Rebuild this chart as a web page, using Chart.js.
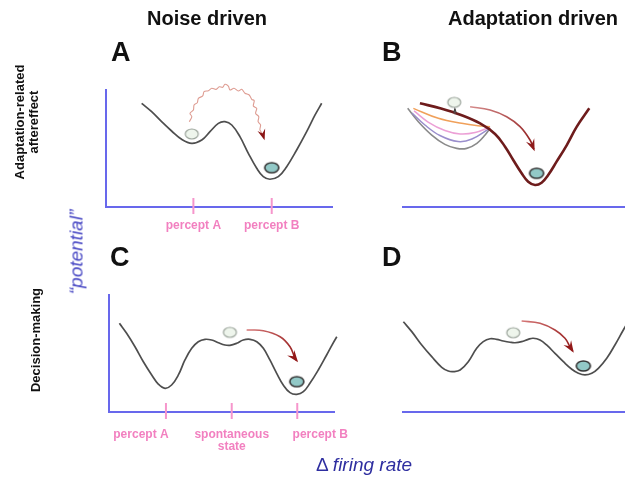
<!DOCTYPE html>
<html>
<head>
<meta charset="utf-8">
<script src="https://cdn.jsdelivr.net/npm/chart.js@4.4.1/dist/chart.umd.min.js"></script>
<style>
  html, body { margin: 0; padding: 0; background: #fff; width: 625px; height: 478px; overflow: hidden; position: relative; }
  canvas.layer { position: absolute; left: 0; top: 0; }
  .t { position: absolute; font-family: "Liberation Sans", Arial, Helvetica, sans-serif; white-space: nowrap; }
  .title { font-size: 20px; font-weight: bold; line-height: 20px; color: #111; }
  .letter { font-size: 27px; font-weight: bold; line-height: 27px; color: #111; }
  .row { font-size: 13px; font-weight: bold; line-height: 14px; color: #111; text-align: center;
         transform: translate(-50%, -50%) rotate(-90deg); }
  .pot { font-size: 19px; font-style: italic; line-height: 19px; color: #4848c4;
         transform: translate(-50%, -50%) rotate(-90deg); }
  .xlab { font-size: 19px; line-height: 19px; color: #2e2ea0; transform: translateX(-50%); }
  .xlab i { font-style: italic; }
</style>
</head>
<body>
<canvas id="cA" class="layer" width="640" height="478"></canvas>
<canvas id="cB" class="layer" width="640" height="478"></canvas>
<canvas id="cC" class="layer" width="640" height="478"></canvas>
<canvas id="cD" class="layer" width="640" height="478"></canvas>

<div class="t title" style="left:147px; top:8px;">Noise driven</div>
<div class="t title" style="left:448px; top:8px;">Adaptation driven</div>
<div class="t letter" style="left:111px; top:39px;">A</div>
<div class="t letter" style="left:382px; top:39px;">B</div>
<div class="t letter" style="left:110px; top:244px;">C</div>
<div class="t letter" style="left:382px; top:244px;">D</div>
<div class="t row" style="left:26.5px; top:122px;">Adaptation-related<br>aftereffect</div>
<div class="t row" style="left:35.5px; top:340px;">Decision-making</div>
<div class="t pot" style="left:76px; top:252px;">“potential”</div>
<div class="t xlab" style="left:364px; top:455px;">Δ <i>firing rate</i></div>

<script>
// ---------------- values (x: firing-rate units 0-100, y: potential units 0-100) ----------------

// Panel A: asymmetric double well, noise kicks the state from percept A to percept B
const aWellX = [15.7, 20.1, 24.5, 28.9, 33.3, 37.8, 42.2, 45.8, 49.5, 52.4, 55.4, 59.0, 62.7, 66.4, 69.3, 72.2, 75.9, 79.6, 84.0, 88.4, 92.1, 95.0];
const aWellY = [87.9, 80.8, 72.3, 64.4, 57.4, 54.0, 56.8, 63.8, 70.9, 72.3, 69.5, 59.6, 45.5, 32.8, 25.7, 23.5, 25.7, 34.2, 48.3, 63.8, 78.0, 87.9];
const aNoiseX = [36.7, 37.8, 37.0, 38.5, 38.8, 40.2, 40.7, 42.6, 43.2, 45.1, 46.6, 48.5, 49.9, 51.4, 52.4, 53.9, 54.6, 56.4, 58.3, 59.8, 61.2, 63.1, 64.2, 65.3, 64.9, 66.4, 65.9, 67.3, 67.0, 68.1, 67.8, 69.0, 69.6];
const aNoiseY = [72.3, 76.5, 79.4, 82.2, 86.4, 88.4, 92.1, 94.1, 97.7, 98.6, 100.6, 99.7, 101.9, 101.4, 104.0, 102.5, 99.2, 100.6, 98.3, 99.7, 96.4, 94.9, 91.3, 90.1, 85.6, 83.6, 79.4, 76.5, 72.3, 69.5, 65.3, 61.9, 58.2];
const aOldState = [37.8, 61.9];
const aNewState = [73.0, 33.3];
const aTickValues = [38.5, 73.0];
const aTickLabels = ['percept A', 'percept B'];

// Panel B: the adapted well flattens out until the state slides into the other well
const bMainX = [7.9, 17.2, 26.0, 34.4, 41.0, 45.4, 49.0, 52.7, 55.6, 58.6, 61.5, 64.4, 68.1, 72.6, 77.0, 82.5];
const bMainY = [87.9, 83.5, 78.0, 70.8, 61.9, 51.1, 39.8, 28.6, 21.4, 18.6, 20.6, 27.1, 38.4, 52.5, 68.1, 83.6];
const bStage1X = [2.5, 7.2, 13.1, 18.9, 24.1, 28.5, 33.0, 36.6, 38.8];
const bStage1Y = [83.6, 72.3, 61.0, 53.1, 49.7, 49.7, 54.0, 61.0, 66.7];
const bStage2X = [4.4, 10.1, 16.7, 24.7, 30.8, 38.8];
const bStage2Y = [79.7, 69.5, 60.6, 55.5, 57.6, 66.9];
const bStage3X = [5.3, 11.5, 18.9, 25.6, 32.2, 38.8];
const bStage3Y = [81.4, 72.0, 64.8, 61.9, 63.1, 67.8];
const bStage4X = [5.0, 16.0, 26.3, 35.1, 38.8];
const bStage4Y = [83.6, 75.2, 70.9, 68.6, 68.1];
const bLiftX = [23.3, 23.3];
const bLiftY = [78.6, 83.1];
const bSlideX = [30.0, 38.8, 46.1, 52.0, 56.4, 58.1];
const bSlideY = [85.0, 82.2, 76.5, 68.1, 56.8, 48.9];
const bOldState = [23.0, 88.7];
const bNewState = [59.3, 28.6];

// Panel C: tri-stable landscape with a shallow spontaneous state in the middle
const cWellX = [4.6, 7.8, 11.5, 15.2, 18.9, 21.8, 24.8, 27.7, 30.7, 33.6, 36.6, 39.5, 42.5, 45.4, 48.4, 51.3, 53.5, 56.5, 59.4, 62.4, 65.4, 68.3, 71.2, 74.2, 77.1, 80.1, 83.1, 86.0, 88.9, 92.6, 96.3, 100.8, 105.9];
const cWellY = [75.2, 66.7, 55.3, 42.6, 31.4, 23.7, 20.1, 22.9, 31.4, 44.1, 54.0, 59.6, 61.6, 61.0, 58.7, 56.8, 56.5, 58.2, 61.0, 61.6, 59.6, 54.0, 44.1, 32.8, 22.9, 16.4, 15.0, 17.2, 24.3, 35.6, 48.3, 63.8, 78.0];
const cMoveX = [60.9, 68.3, 75.7, 80.1, 82.3, 83.1];
const cMoveY = [69.5, 68.9, 63.8, 55.3, 45.5, 43.5];
const cOldState = [53.5, 67.5];
const cNewState = [83.1, 25.7];
const cTickValues = [25.2, 54.3, 83.3];
const cTickLabels = ['percept A', 'spontaneous\nstate', 'percept B'];

// Panel D: same landscape, the move is driven by adaptation
const dWellX = [0.6, 4.3, 8.7, 13.1, 17.5, 20.4, 22.6, 25.6, 29.2, 32.9, 35.8, 38.8, 41.7, 44.6, 47.6, 49.8, 52.7, 55.6, 57.8, 60.8, 63.7, 67.4, 71.1, 74.8, 77.7, 80.6, 83.6, 86.5, 90.2, 93.8, 97.5, 99.7];
const dWellY = [76.5, 68.1, 56.8, 46.9, 37.9, 34.7, 34.2, 35.6, 42.6, 54.0, 59.6, 62.1, 61.6, 60.2, 59.1, 58.7, 59.6, 61.6, 62.5, 61.0, 56.8, 49.7, 42.6, 36.2, 32.8, 31.4, 32.8, 37.0, 45.5, 56.8, 69.5, 76.5];
const dMoveX = [52.7, 60.8, 67.4, 71.8, 74.0, 75.2];
const dMoveY = [77.1, 75.2, 69.5, 62.5, 55.3, 51.7];
const dOldState = [49.0, 67.2];
const dNewState = [79.9, 39.0];

// ---------------- styling helpers ----------------
const AXIS_BLUE = 'rgb(104,104,236)';
const TICK_PINK = 'rgb(246,150,204)';
const LABEL_PINK = 'rgb(242,128,192)';
const WELL_GREY = '#4e4e4e';
const ARROW_RED = '#8e1a1a';

const pts = (xs, ys) => xs.map((x, i) => ({ x, y: ys[i] }));

function ballImage(rx, ry, fill, stroke, lw) {
  const c = document.createElement('canvas');
  c.width = Math.ceil(rx * 2 + lw + 2);
  c.height = Math.ceil(ry * 2 + lw + 2);
  const g = c.getContext('2d');
  g.beginPath();
  g.ellipse(c.width / 2, c.height / 2, rx, ry, 0, 0, Math.PI * 2);
  g.fillStyle = fill; g.fill();
  g.lineWidth = lw; g.strokeStyle = stroke; g.stroke();
  return c;
}
const LIGHT_BALL = ballImage(6.5, 5, '#eef5ec', '#9aa39a', 1.2);
const DARK_BALL = ballImage(7, 5, '#92c9c7', '#343434', 1.6);

function ball(xy, img) {
  return { data: [{ x: xy[0], y: xy[1] }], showLine: false, pointStyle: img, pointRadius: 6,
           order: 0, clip: false };
}
function curve(xs, ys, color, width, order) {
  return { data: pts(xs, ys), borderColor: color, borderWidth: width, pointRadius: 0,
           tension: 0.4, fill: false, clip: false, order: order };
}
function fadeStroke(from, to) {
  return (c) => {
    const chart = c.chart;
    const ds = chart.data.datasets[c.datasetIndex];
    if (!chart.chartArea || !chart.scales.x) return to;
    const sx = chart.scales.x, sy = chart.scales.y;
    const p0 = ds.data[0], p1 = ds.data[ds.data.length - 1];
    const g = chart.ctx.createLinearGradient(sx.getPixelForValue(p0.x), sy.getPixelForValue(p0.y),
                                             sx.getPixelForValue(p1.x), sy.getPixelForValue(p1.y));
    g.addColorStop(0, from); g.addColorStop(1, to);
    return g;
  };
}
function arrow(xs, ys, color, width, head, tension) {
  const d = curve(xs, ys, color, width, 1);
  d.tension = tension;
  d.arrowHead = head;
  return d;
}

// axes, pink ticks with labels, arrowheads
const decor = {
  id: 'decor',
  beforeDatasetsDraw(chart, args, o) {
    const { ctx, chartArea: a } = chart;
    const sx = chart.scales.x;
    ctx.save();
    ctx.strokeStyle = AXIS_BLUE;
    ctx.lineWidth = 2;
    ctx.beginPath();
    if (o.yAxis) { ctx.moveTo(a.left, a.top); ctx.lineTo(a.left, a.bottom + 1); }
    ctx.moveTo(a.left, a.bottom);
    ctx.lineTo(o.xAxisToEdge ? chart.width : a.right, a.bottom);
    ctx.stroke();

    const vals = o.tickValues || [];
    const labels = o.tickLabels || [];
    const shifts = o.labelShift || [];
    vals.forEach((v, i) => {
      const px = sx.getPixelForValue(v);
      ctx.strokeStyle = TICK_PINK;
      ctx.lineWidth = 2;
      ctx.beginPath();
      ctx.moveTo(px, a.bottom - 9);
      ctx.lineTo(px, a.bottom + 7);
      ctx.stroke();
      ctx.fillStyle = LABEL_PINK;
      ctx.font = 'bold 12px "Liberation Sans", Arial, sans-serif';
      ctx.textAlign = 'center';
      ctx.textBaseline = 'alphabetic';
      String(labels[i] || '').split('\n').forEach((line, k) => {
        ctx.fillText(line, px + (shifts[i] || 0), a.bottom + o.labelGap + k * 12);
      });
    });
    ctx.restore();
  },
  afterDatasetsDraw(chart) {
    const ctx = chart.ctx;
    chart.data.datasets.forEach((ds, i) => {
      if (!ds.arrowHead) return;
      const el = chart.getDatasetMeta(i).data;
      const p1 = el[el.length - 1], p0 = el[el.length - 2];
      const ang = Math.atan2(p1.y - p0.y, p1.x - p0.x);
      const L = ds.arrowHead.len, W = ds.arrowHead.wid;
      ctx.save();
      ctx.translate(p1.x, p1.y);
      ctx.rotate(ang);
      ctx.beginPath();
      ctx.moveTo(2, 0);
      ctx.lineTo(-L, -W / 2);
      ctx.lineTo(-L * 0.55, 0);
      ctx.lineTo(-L, W / 2);
      ctx.closePath();
      ctx.fillStyle = ds.arrowHead.color;
      ctx.fill();
      ctx.restore();
    });
  }
};

function panel(id, area, datasets, decorOpts) {
  new Chart(document.getElementById(id), {
    type: 'line',
    data: { datasets },
    options: {
      responsive: false,
      animation: false,
      events: [],
      layout: { padding: { left: area[0], top: area[1], right: 640 - area[2], bottom: 478 - area[3] } },
      scales: {
        x: { type: 'linear', min: 0, max: 100, display: false },
        y: { type: 'linear', min: 0, max: 100, display: false }
      },
      plugins: { legend: { display: false }, tooltip: { enabled: false }, decor: decorOpts }
    },
    plugins: [decor]
  });
}

// plot rectangles: left, top, right, bottom
panel('cA', [106, 89, 333, 207], [
  ball(aOldState, LIGHT_BALL),
  ball(aNewState, DARK_BALL),
  arrow(aNoiseX, aNoiseY, 'rgb(222,156,146)', 1.1, { len: 9, wid: 8, color: '#8a1414' }, 0.3),
  curve(aWellX, aWellY, WELL_GREY, 1.7, 2)
], { yAxis: true, xAxisToEdge: false, tickValues: aTickValues, tickLabels: aTickLabels, labelShift: [0, 0], labelGap: 21.5 });

panel('cB', [402, 89, 629, 207], [
  ball(bOldState, LIGHT_BALL),
  ball(bNewState, DARK_BALL),
  arrow(bSlideX, bSlideY, fadeStroke('rgb(214,140,140)', '#8e1a1a'), 1.6, { len: 10, wid: 9, color: '#8e1a1a' }, 0.4),
  arrow(bLiftX, bLiftY, '#555', 1.2, { len: 4, wid: 4, color: '#444' }, 0),
  curve(bMainX, bMainY, '#6e1c1c', 2.6, 2),
  curve(bStage4X, bStage4Y, 'rgb(240,160,90)', 1.5, 3),
  curve(bStage3X, bStage3Y, 'rgb(236,160,214)', 1.5, 4),
  curve(bStage2X, bStage2Y, 'rgb(154,142,204)', 1.5, 5),
  curve(bStage1X, bStage1Y, '#8a8a8a', 1.6, 6)
], { yAxis: false, xAxisToEdge: true });

panel('cC', [109, 294, 335, 412], [
  ball(cOldState, LIGHT_BALL),
  ball(cNewState, DARK_BALL),
  arrow(cMoveX, cMoveY, fadeStroke('rgb(214,120,120)', '#921818'), 1.6, { len: 10, wid: 9, color: '#921818' }, 0.4),
  curve(cWellX, cWellY, WELL_GREY, 1.7, 2)
], { yAxis: true, xAxisToEdge: false, tickValues: cTickValues, tickLabels: cTickLabels, labelShift: [-25, 0, 23], labelGap: 25.5 });

panel('cD', [402, 294, 629, 412], [
  ball(dOldState, LIGHT_BALL),
  ball(dNewState, DARK_BALL),
  arrow(dMoveX, dMoveY, fadeStroke('rgb(214,120,120)', '#921818'), 1.6, { len: 10, wid: 9, color: '#921818' }, 0.4),
  curve(dWellX, dWellY, WELL_GREY, 1.7, 2)
], { yAxis: false, xAxisToEdge: true });
</script>
</body>
</html>
